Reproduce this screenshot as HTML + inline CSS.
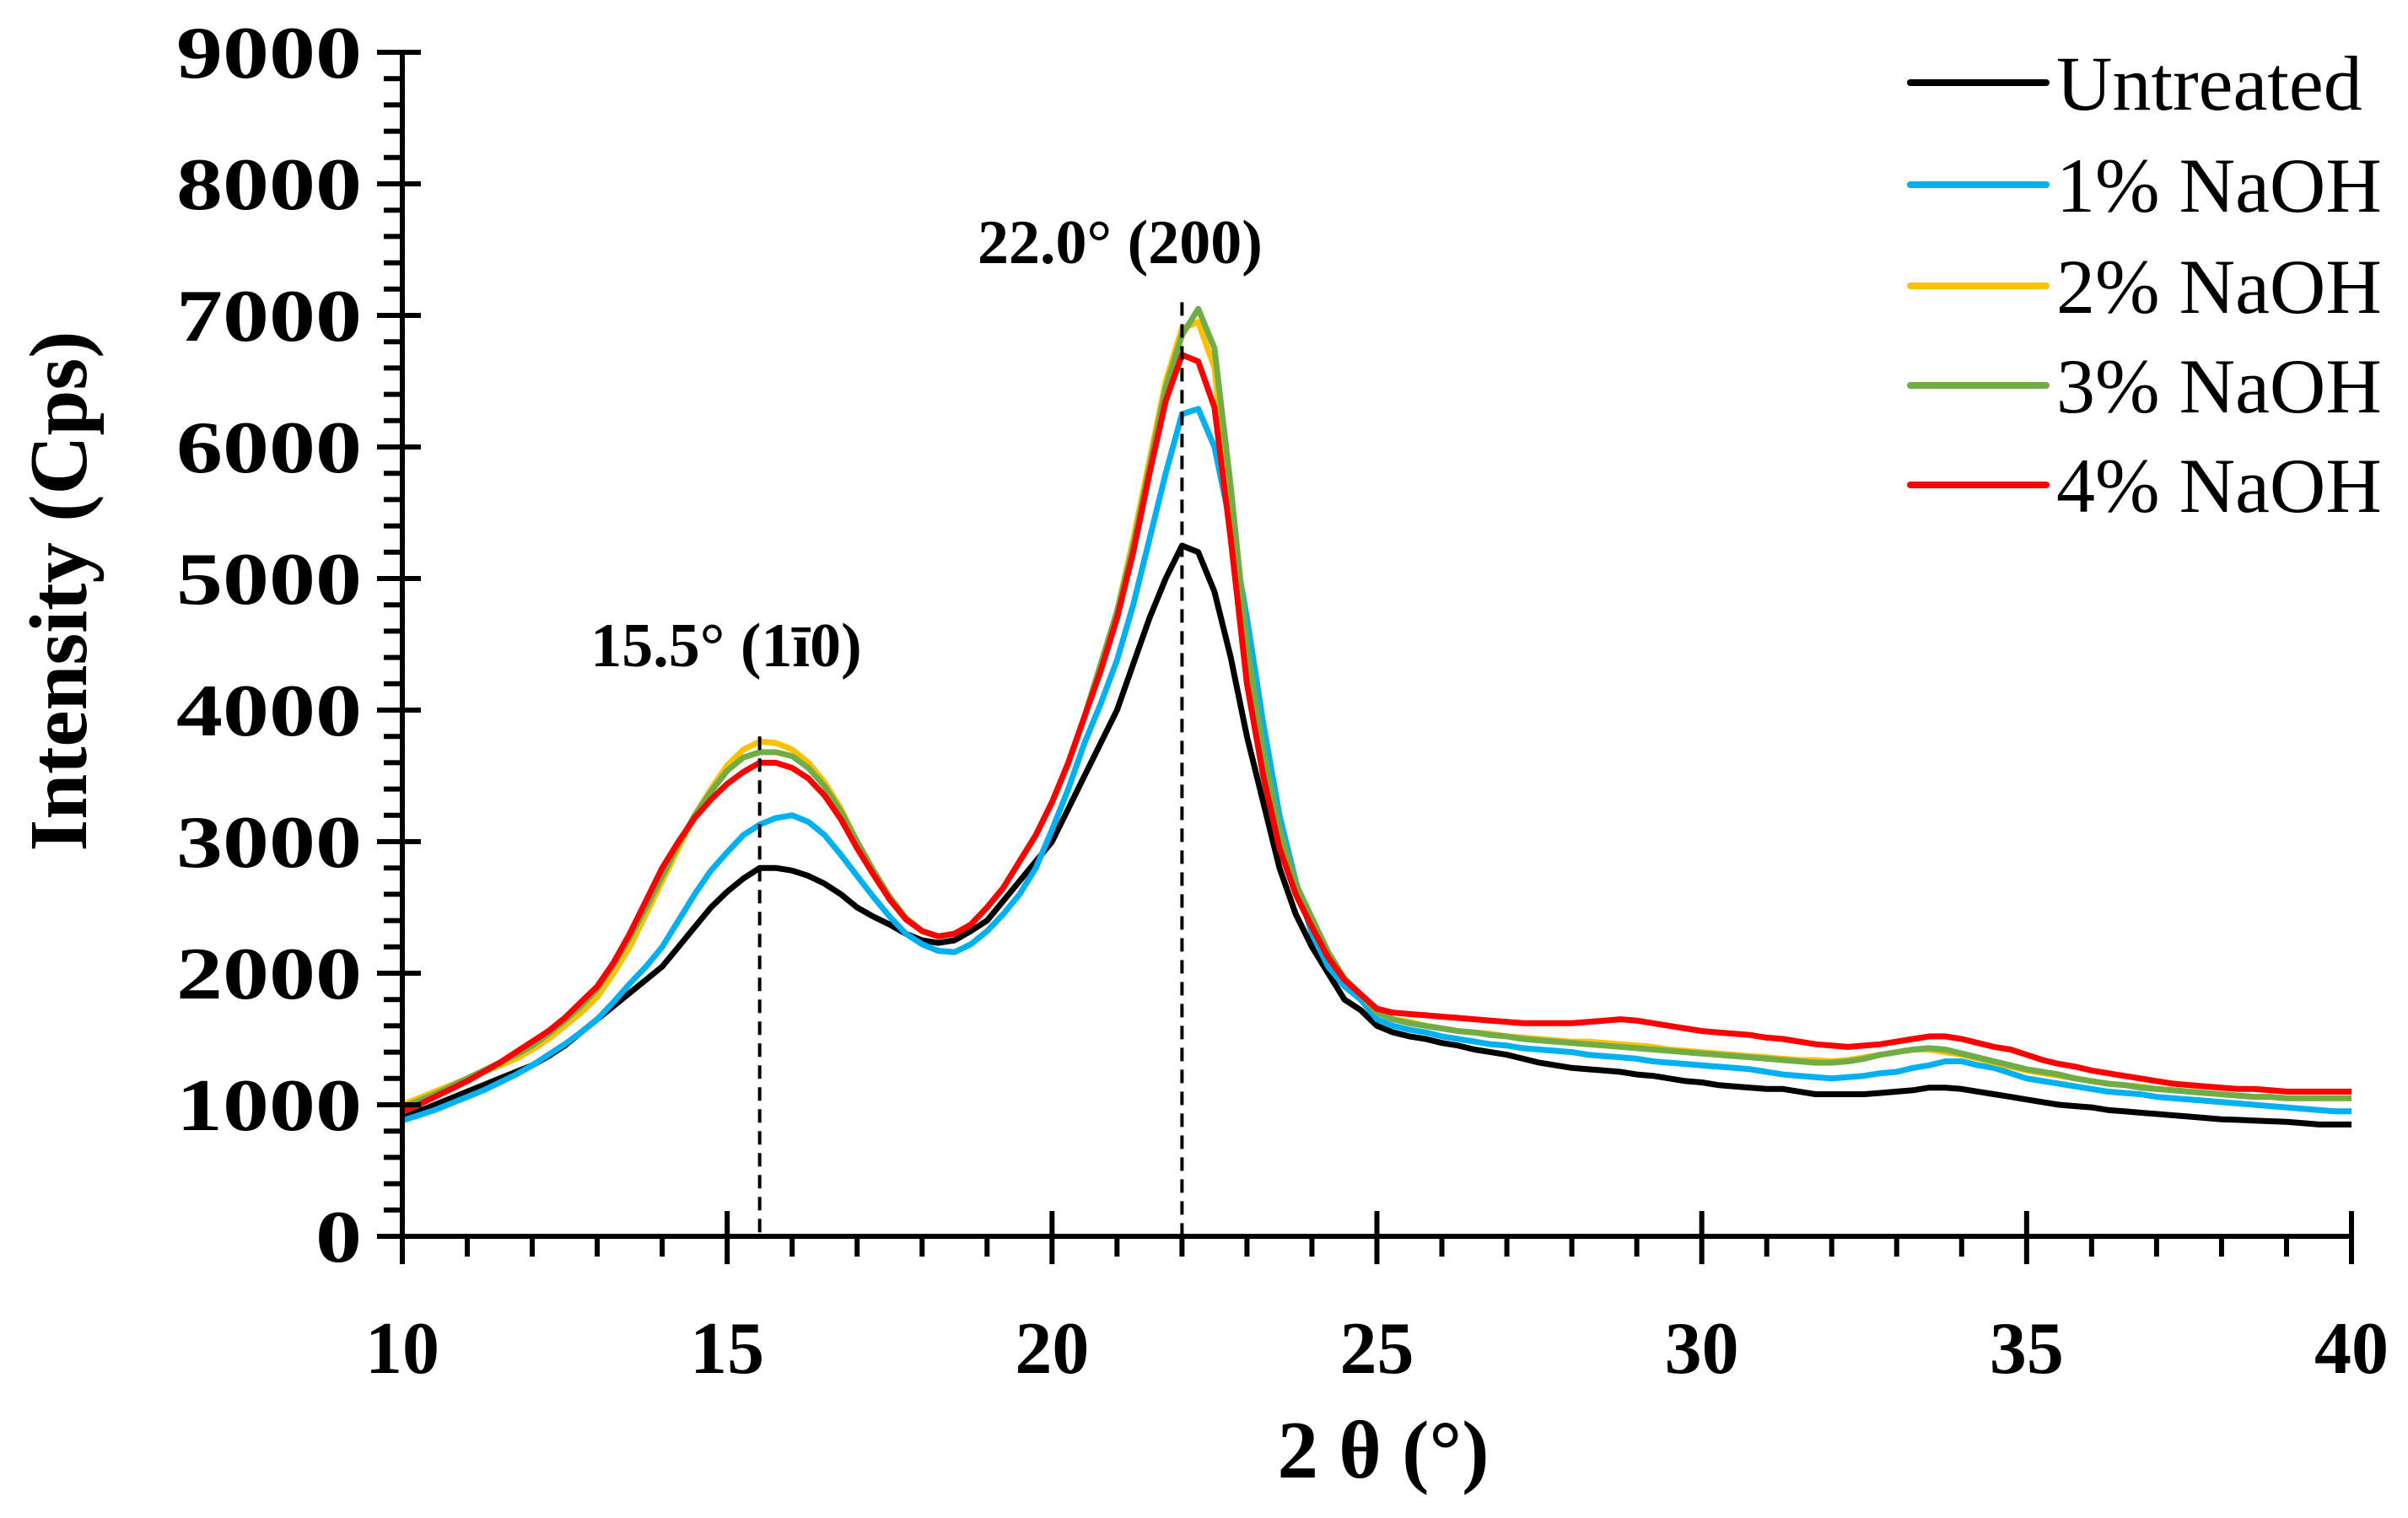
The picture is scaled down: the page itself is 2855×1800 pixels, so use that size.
<!DOCTYPE html>
<html><head><meta charset="utf-8"><style>
html,body{margin:0;padding:0;background:#fff;}
svg{display:block;}
text{font-family:"Liberation Serif",serif;fill:#000;}
</style></head><body>
<svg id="chart" width="2855" height="1800" viewBox="0 0 2855 1800" xmlns="http://www.w3.org/2000/svg">
<rect width="2855" height="1800" fill="#fff"/>
<g id="plot"></g>
</svg>
<script>
const seriesNames = ["Untreated","1% NaOH","2% NaOH","3% NaOH","4% NaOH"];
const seriesColors = ["#000000","#00b0f0","#ffc000","#70ad47","#ff0000"];
// head: 10..25 at 0.25 step ; tail: 25..40 at 0.25 step
const untreated = [900,950,1000,1050,1100,1150,1200,1250,1300,1370,1450,1550,1650,1750,1850,1950,2050,2200,2350,2500,2620,2720,2800,2800,2780,2740,2680,2600,2500,2430,2370,2300,2250,2230,2250,2320,2400,2550,2700,2850,3000,3250,3500,3750,4000,4350,4700,5000,5250,5200,4900,4400,3800,3300,2800,2450,2200,2000,1800,1720,1650];
const untreatedTail = [1600,1550,1520,1500,1470,1450,1420,1400,1380,1350,1320,1300,1280,1270,1260,1250,1230,1220,1200,1180,1170,1150,1140,1130,1120,1120,1100,1080,1080,1080,1080,1090,1100,1110,1130,1130,1120,1100,1080,1060,1040,1020,1000,990,980,960,950,940,930,920,910,900,890,885,880,875,870,860,850,850,850];
const naoh1 = [880,920,960,1010,1060,1110,1170,1230,1300,1380,1460,1550,1650,1780,1920,2050,2200,2400,2600,2780,2920,3050,3130,3180,3200,3150,3050,2900,2740,2580,2430,2300,2220,2170,2160,2220,2320,2450,2600,2800,3090,3400,3750,4050,4380,4800,5300,5800,6250,6290,6000,5400,4700,3900,3200,2700,2300,2050,1900,1800,1700];
const naoh1Tail = [1650,1600,1570,1550,1520,1500,1480,1460,1450,1430,1420,1410,1400,1380,1370,1360,1350,1330,1320,1310,1300,1290,1280,1270,1250,1230,1220,1210,1200,1210,1220,1240,1250,1280,1300,1330,1330,1300,1280,1240,1200,1180,1160,1140,1120,1100,1090,1080,1060,1050,1040,1030,1020,1010,1000,990,980,970,960,950,950];
const naoh2 = [1000,1050,1100,1150,1200,1250,1300,1350,1420,1500,1600,1700,1820,2000,2200,2450,2700,2950,3200,3400,3580,3700,3760,3750,3700,3600,3450,3250,3000,2780,2580,2420,2320,2280,2300,2370,2500,2650,2850,3050,3300,3600,3950,4350,4750,5300,5900,6500,6900,6950,6600,5500,4300,3600,3050,2650,2400,2150,1950,1840,1750];
const naoh2Tail = [1700,1650,1630,1600,1580,1560,1550,1540,1520,1510,1500,1490,1480,1480,1470,1460,1450,1440,1420,1410,1400,1390,1380,1370,1360,1350,1340,1340,1330,1340,1360,1380,1400,1420,1420,1400,1380,1350,1320,1290,1260,1240,1220,1200,1180,1160,1150,1140,1120,1110,1100,1090,1080,1070,1060,1060,1050,1050,1050,1050,1050];
const naoh3 = [980,1030,1080,1140,1200,1260,1320,1380,1450,1540,1640,1750,1880,2060,2270,2500,2740,2980,3200,3380,3540,3640,3680,3680,3650,3560,3420,3230,3000,2780,2580,2420,2320,2280,2300,2370,2500,2650,2850,3050,3300,3600,3950,4350,4750,5250,5850,6450,6850,7050,6750,5700,4500,3700,3100,2680,2420,2160,1960,1840,1740];
const naoh3Tail = [1700,1650,1620,1600,1580,1560,1550,1530,1520,1500,1490,1480,1470,1460,1450,1440,1430,1420,1410,1400,1390,1380,1370,1360,1350,1340,1330,1320,1320,1330,1350,1380,1400,1420,1430,1420,1390,1360,1330,1300,1270,1250,1230,1200,1180,1160,1150,1130,1120,1110,1100,1090,1080,1070,1060,1060,1050,1050,1050,1050,1050];
const naoh4 = [950,1000,1060,1120,1180,1250,1320,1400,1480,1560,1660,1780,1900,2080,2300,2550,2800,3000,3180,3320,3440,3530,3600,3600,3560,3480,3350,3170,2950,2750,2560,2410,2320,2280,2300,2370,2500,2650,2850,3050,3300,3600,3950,4300,4700,5200,5800,6350,6700,6650,6300,5300,4200,3500,2950,2600,2350,2120,1950,1840,1760];
const naoh4Tail = [1730,1700,1690,1680,1670,1660,1650,1640,1630,1620,1620,1620,1620,1630,1640,1650,1640,1620,1600,1580,1560,1550,1540,1530,1510,1500,1480,1460,1450,1440,1450,1460,1480,1500,1520,1520,1500,1470,1440,1420,1380,1340,1310,1290,1260,1240,1220,1200,1180,1160,1150,1140,1130,1120,1120,1110,1100,1100,1100,1100,1100];
const xTicks = [10,15,20,25,30,35,40];
const yTicks = [0,1000,2000,3000,4000,5000,6000,7000,8000,9000];

const X0 = 477, X1 = 2788, Y0 = 1466, Y1 = 62;
function sx(v){ return X0 + (v - 10) / 30 * (X1 - X0); }
function sy(v){ return Y0 - v / 9000 * (Y0 - Y1); }

const NS = "http://www.w3.org/2000/svg";
const g = document.getElementById("plot");
function mk(tag, attrs, parent){
  const e = document.createElementNS(NS, tag);
  for (const k in attrs) e.setAttribute(k, attrs[k]);
  (parent || g).appendChild(e);
  return e;
}

function buildSeries(head, tail){
  const pts = [];
  for (let i = 0; i < head.length; i++){ const x = 10 + i * 0.25; if (x < 25) pts.push([x, head[i]]); }
  for (let i = 0; i < tail.length; i++){ const x = 25 + i * 0.25; if (x <= 40) pts.push([x, tail[i]]); }
  return pts;
}
const allSeries = [
  buildSeries(untreated, untreatedTail),
  buildSeries(naoh1, naoh1Tail),
  buildSeries(naoh2, naoh2Tail),
  buildSeries(naoh3, naoh3Tail),
  buildSeries(naoh4, naoh4Tail)
];
[0,1,2,3,4].forEach(function(si){
  const d = allSeries[si].map(function(p, i){ return (i ? "L" : "M") + sx(p[0]).toFixed(1) + "," + sy(p[1]).toFixed(1); }).join(" ");
  const path = mk("path", {d: d, fill: "none", stroke: seriesColors[si], "stroke-width": 7, "stroke-linejoin": "round"});
  
  
});

const peakX = [15.5, 22.0];
const peakTop = [3800, 7100];
peakX.forEach(function(px, i){
  const l = mk("line", {x1: sx(px), x2: sx(px), y1: sy(peakTop[i]), y2: Y0, stroke: "#000", "stroke-width": 4, "stroke-dasharray": "16,10"});
  
  
});

const ya = mk("line", {x1: X0, x2: X0, y1: Y1, y2: Y0 + 2, stroke: "#000", "stroke-width": 6});


const xa = mk("line", {x1: X0 - 30, x2: X1 + 3, y1: Y0, y2: Y0, stroke: "#000", "stroke-width": 6});



for (let v = 0; v <= 9000; v += 200){
  const major = v % 1000 === 0;
  const t = mk("line", {x1: X0 - (major ? 30 : 22), x2: major ? X0 + 22 : X0, y1: sy(v), y2: sy(v), stroke: "#000", "stroke-width": 6});
  
  
}
for (let v = 10; v <= 40; v += 1){
  const major = v % 5 === 0;
  const t = mk("line", {x1: sx(v), x2: sx(v), y1: major ? Y0 - 30 : Y0, y2: Y0 + (major ? 33 : 24), stroke: "#000", "stroke-width": 6});
  
  
}
yTicks.forEach(function(v){
  const s = String(v);
  const t = mk("text", {x: X0 - 48, y: sy(v) + 30, "text-anchor": "end", "font-size": 88, "font-weight": "bold", textLength: 55 * s.length, lengthAdjust: "spacingAndGlyphs"});
  t.textContent = s;
  
  
});
xTicks.forEach(function(v){
  const t = mk("text", {x: sx(v), y: 1628, "text-anchor": "middle", "font-size": 88, "font-weight": "bold"});
  t.textContent = v;
  
  
});

const xt = mk("text", {x: 1640, y: 1752, "text-anchor": "middle", "font-size": 97, "font-weight": "bold"});
xt.textContent = "2 θ (°)";


const ytl = mk("text", {x: 0, y: 0, "text-anchor": "middle", "font-size": 97, "font-weight": "bold", transform: "translate(102,701) rotate(-90)"});
ytl.textContent = "Intensity (Cps)";



const a1 = mk("text", {x: 861, y: 790, "text-anchor": "middle", "font-size": 74, "font-weight": "bold"});
a1.textContent = "15.5° (1ī0)";


const a2 = mk("text", {x: 1328, y: 312, "text-anchor": "middle", "font-size": 74, "font-weight": "bold"});
a2.textContent = "22.0° (200)";



const legendY = [98, 219, 339, 457, 575];
seriesNames.forEach(function(n, i){
  const lg = mk("g", {});
  
  
  mk("line", {x1: 2265, x2: 2426, y1: legendY[i], y2: legendY[i], stroke: seriesColors[i], "stroke-width": 8, "stroke-linecap": "round"}, lg);
  const t = mk("text", {x: 2438, y: legendY[i] + 32, "font-size": 92}, lg);
  t.textContent = n;
});
</script>
</body></html>
